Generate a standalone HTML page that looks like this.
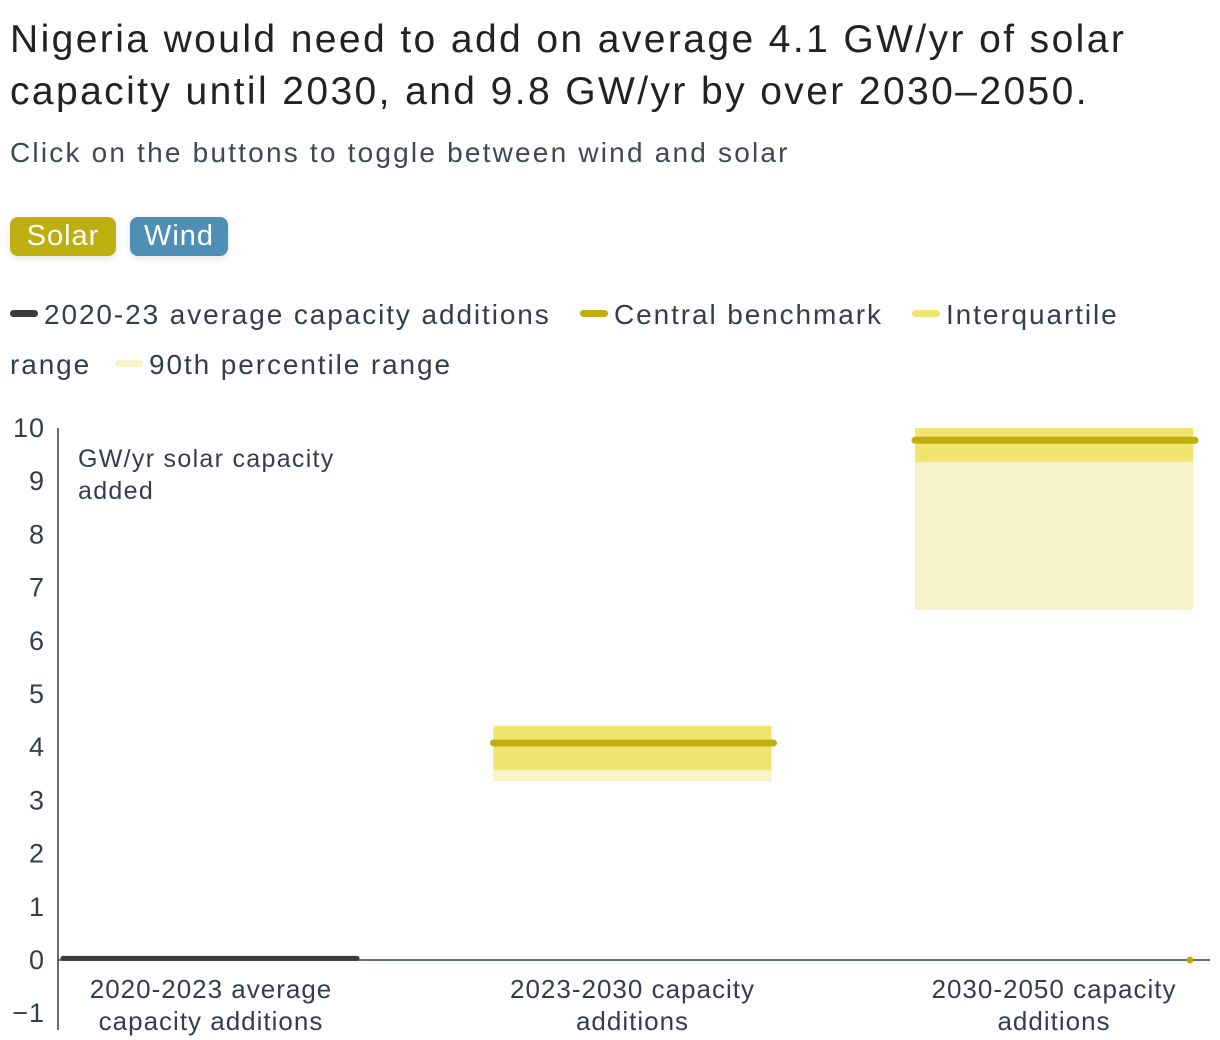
<!DOCTYPE html>
<html><head><meta charset="utf-8"><style>
body{margin:0;width:1220px;height:1040px;background:#fff;font-family:"Liberation Sans","DejaVu Sans",sans-serif;color:#333f48;overflow:hidden;position:relative}
h1{position:absolute;left:10px;top:14px;margin:0;font-size:39px;font-weight:normal;line-height:52px;color:#222;letter-spacing:2.4px}
.sub{position:absolute;left:10px;top:137px;font-size:28px;color:#3d4a52;letter-spacing:2.2px}
.btn{position:absolute;top:217px;height:39px;border-radius:8px;color:#fff;font-size:29px;line-height:39px;text-align:center;letter-spacing:1px;box-shadow:0 2px 8px rgba(0,0,0,.12)}
.leg{position:absolute;font-size:28px;color:#333f48;white-space:nowrap;letter-spacing:1.9px}
.sw{display:inline-block;width:28px;height:7px;border-radius:4px;vertical-align:middle;margin-right:6px;position:relative;top:-3px}
</style></head><body>
<h1>Nigeria would need to add on average 4.1 GW/yr of solar<br>capacity until 2030, and 9.8 GW/yr by over 2030–2050.</h1>
<div class="sub">Click on the buttons to toggle between wind and solar</div>
<div class="btn" style="left:10px;width:106px;background:#bfae10">Solar</div>
<div class="btn" style="left:130px;width:98px;background:#4f8fb5">Wind</div>
<div class="leg" style="left:10px;top:299px"><span class="sw" style="background:#3a3a3a"></span>2020-23 average capacity additions</div>
<div class="leg" style="left:580px;top:299px"><span class="sw" style="background:#bfae10"></span>Central benchmark</div>
<div class="leg" style="left:912px;top:299px"><span class="sw" style="background:#f1e46f"></span>Interquartile</div>
<div class="leg" style="left:10px;top:349px">range</div>
<div class="leg" style="left:115px;top:349px"><span class="sw" style="background:#f8f2c8"></span>90th percentile range</div>
<svg id="chart" width="1220" height="1040" style="position:absolute;left:0;top:0"></svg>
<script>
const categories=["2020-2023 average|capacity additions","2023-2030 capacity|additions","2030-2050 capacity|additions"];
const historic=[0.05,null,null];
const central=[null,4.08,9.77];
const iqrLow=[null,3.57,9.36];
const iqrHigh=[null,4.40,10.0];
const p90Low=[null,3.36,6.58];
const p90High=[null,4.40,10.0];
const yTicks=[10,9,8,7,6,5,4,3,2,1,0,-1];
const y=v=>960-v*53.2;
const cx=i=>211+421.5*i;
const svg=document.getElementById('chart');const NS="http://www.w3.org/2000/svg";
function mk(t,a){const e=document.createElementNS(NS,t);for(const k in a)e.setAttribute(k,a[k]);svg.appendChild(e);return e;}
yTicks.forEach(t=>{const e=mk('text',{x:45,y:y(t)+9,'text-anchor':'end','font-size':27,fill:'#333f48','letter-spacing':1});e.textContent=t<0?'−'+(-t):t;

});
const ax=mk('line',{x1:58,x2:58,y1:428,y2:1030,stroke:'#333f48','stroke-width':1.5});


const bl=mk('line',{x1:58,x2:1210,y1:y(0),y2:y(0),stroke:'#333f48','stroke-width':1.5});


const yt=mk('text',{x:78,y:467,'font-size':25,fill:'#333f48','letter-spacing':1.3});yt.innerHTML='<tspan x="78">GW/yr solar capacity</tspan><tspan x="78" dy="32">added</tspan>';


const hw=139;
categories.forEach((c,i)=>{
 const x0=cx(i)-hw,x1=cx(i)+hw;
 if(p90Low[i]!=null){const r=mk('rect',{x:x0,y:y(p90High[i]),width:x1-x0,height:y(p90Low[i])-y(p90High[i]),fill:'#f8f2c8'});
 
 }
 if(iqrLow[i]!=null){const r=mk('rect',{x:x0,y:y(iqrHigh[i]),width:x1-x0,height:y(iqrLow[i])-y(iqrHigh[i]),fill:'#f1e46f'});
 
 }
 if(central[i]!=null){const l=mk('line',{x1:x0,x2:x1+2,y1:y(central[i]),y2:y(central[i]),stroke:'#bfae10','stroke-width':7,'stroke-linecap':'round'});
 
 }
 if(historic[i]!=null){const l=mk('line',{x1:cx(i)-148,x2:cx(i)+146,y1:y(historic[i])+1,y2:y(historic[i])+1,stroke:'#3a3a3a','stroke-width':5,'stroke-linecap':'round'});
 
 }
 const parts=c.split('|');const t=mk('text',{'text-anchor':'middle','font-size':26,fill:'#333f48','letter-spacing':1});
 t.innerHTML=`<tspan x="${cx(i)}" y="998">${parts[0]}</tspan><tspan x="${cx(i)}" y="1030">${parts[1]}</tspan>`;
 
 
});
const d=mk('circle',{cx:1190,cy:y(0),r:3.5,fill:'#bfae10'});


</script>
</body></html>
